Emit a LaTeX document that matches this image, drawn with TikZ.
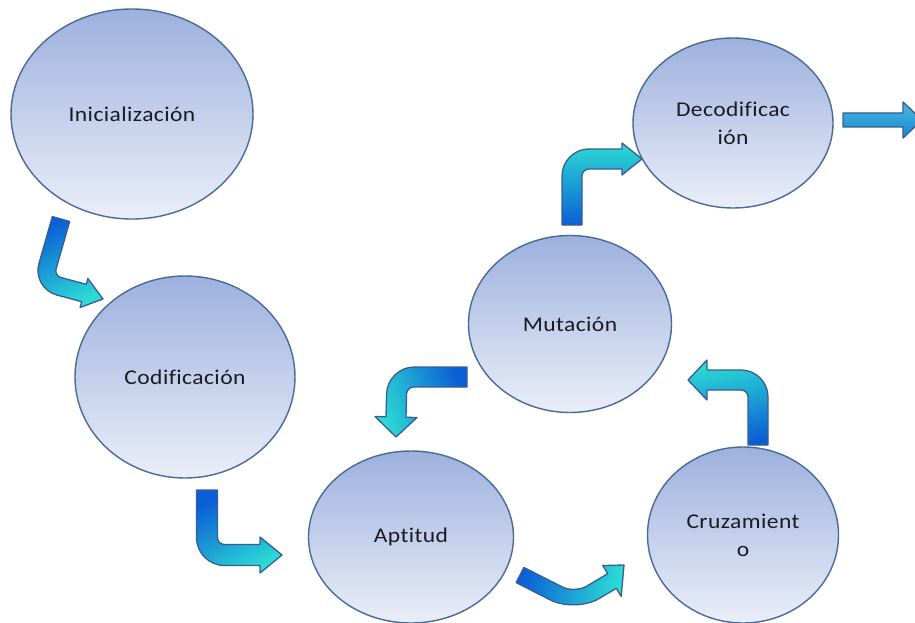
\documentclass[tikz,border=0pt]{standalone}
\usepackage{fontspec}
\setmainfont{Carlito}[FakeStretch=1.12,LetterSpace=2,Ligatures=NoCommon]
\usetikzlibrary{calc,shapes.geometric}
\definecolor{ellTop}{HTML}{9DB1DE}
\definecolor{ellBot}{HTML}{EAEEF8}
\definecolor{ellLine}{HTML}{4A6B95}
\definecolor{arrBlue}{HTML}{0B5FD6}
\definecolor{arrCyan}{HTML}{2CDCD4}
\definecolor{arrLine}{HTML}{3A5C94}
\definecolor{txt}{HTML}{1A1A24}
\tikzset{
  ell/.style={ellipse, draw=ellLine, line width=1.4pt, top color=ellTop, bottom color=ellBot,
    inner sep=0pt, align=center, text=txt, font=\fontsize{21}{28}\selectfont},
  arrsty/.style={draw=arrLine, line width=1.3pt, line join=round, top color=arrBlue, bottom color=arrCyan}
}
% #1 tail centre, #2 bend, #3 head base centre, #4 tip, #5 half shaft width,
% #6 half head width, #7 left-side bend radius, #8 right-side bend radius, #9 shading angle
\newcommand\bentarr[9]{%
  \coordinate (bA) at #1; \coordinate (bB) at #2; \coordinate (bC) at #3; \coordinate (bT) at #4;
  \coordinate (a1) at ($(bA)!#5!90:(bB)$);
  \coordinate (a2) at ($(bA)!#5!-90:(bB)$);
  \coordinate (p1) at ($(bB)!#5!-90:(bA)$);
  \coordinate (p2) at ($(bB)!#5!90:(bA)$);
  \coordinate (q1) at ($(bB)!#5!90:(bC)$);
  \coordinate (q2) at ($(bB)!#5!-90:(bC)$);
  \coordinate (c1) at ($(bC)!#5!-90:(bB)$);
  \coordinate (c2) at ($(bC)!#5!90:(bB)$);
  \coordinate (w1) at ($(bC)!#6!-90:(bB)$);
  \coordinate (w2) at ($(bC)!#6!90:(bB)$);
  \coordinate (k1) at (intersection of a1--p1 and q1--c1);
  \coordinate (k2) at (intersection of a2--p2 and q2--c2);
  \coordinate (s1) at ($(k1)!#7!(a1)$); \coordinate (t1) at ($(k1)!#7!(c1)$);
  \coordinate (s2) at ($(k2)!#8!(c2)$); \coordinate (t2) at ($(k2)!#8!(a2)$);
  \shadedraw[arrsty, shading angle=#9] (a1) -- (s1)
    .. controls ($(s1)!0.552!(k1)$) and ($(t1)!0.552!(k1)$) .. (t1)
    -- (c1) -- (w1) -- (bT) -- (w2) -- (c2) -- (s2)
    .. controls ($(s2)!0.552!(k2)$) and ($(t2)!0.552!(k2)$) .. (t2) -- (a2) -- cycle;
}
\begin{document}
\begin{tikzpicture}[x=1pt,y=-1pt]
\useasboundingbox (0,0) rectangle (915,623);
\fill[white] (0,0) rectangle (915,623);
% arrows
\bentarr{(61,219)}{(43,282)}{(84,293)}{(103,299)}{9pt}{15pt}{7pt}{26pt}{25}
\bentarr{(207,490)}{(207,555)}{(260,555)}{(282,555)}{10.5pt}{18pt}{7pt}{28pt}{30}
\bentarr{(520,575)}{(575,603)}{(612,581)}{(624,565)}{8.5pt}{18pt}{14pt}{28pt}{80}
\bentarr{(758,445)}{(758,380)}{(707,380)}{(688,380)}{10pt}{20pt}{7pt}{27pt}{190}
\bentarr{(467,377)}{(397,377)}{(396,417)}{(396,437)}{10pt}{21pt}{7pt}{27pt}{-70}
\bentarr{(572,225)}{(572,159)}{(622,159)}{(642,159)}{10pt}{16pt}{27pt}{7pt}{180}
\coordinate (r0) at (843,120);
\coordinate (r1) at (903,120);
\coordinate (rT) at (922,120);
\shadedraw[arrsty, top color=arrCyan!60!arrBlue!80!white, bottom color=arrBlue!70!arrCyan]
  ($(r0)+(0,-7)$) -- ($(r1)+(0,-7)$) -- ($(r1)+(0,-18)$) -- (rT) -- ($(r1)+(0,18)$)
  -- ($(r1)+(0,7)$) -- ($(r0)+(0,7)$) -- cycle;
% ellipses
\node[ell, minimum width=242pt, minimum height=210pt] (ini) at (132,114) {Inicialización};
\node[ell, minimum width=220pt, minimum height=202pt] (cod) at (185,377) {Codificación};
\node[ell, minimum width=205pt, minimum height=172pt] (apt) at (411,537) {Aptitud};
\node[ell, minimum width=191pt, minimum height=176pt] (cru) at (743,535) {Cruzamient\\o};
\node[ell, minimum width=203pt, minimum height=177pt] (mut) at (570,324) {Mutación};
\node[ell, minimum width=200pt, minimum height=170pt] (dec) at (733,123) {Decodificac\\ión};
\end{tikzpicture}
\end{document}
